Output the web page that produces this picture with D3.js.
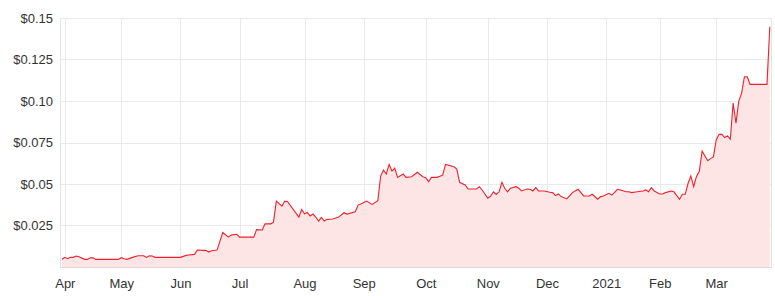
<!DOCTYPE html>
<html>
<head>
<meta charset="utf-8">
<script src="https://cdn.jsdelivr.net/npm/d3@7"></script>
<style>
  body { margin: 0; background: #fff; }
  svg { display: block; font-family: Inter, "Open Sans", sans-serif; }
  .axis text { font-size: 13px; fill: #333; }
  .grid line { stroke: #e9e9e9; }
</style>
</head>
<body>
<svg></svg>
<script>
// ASX trading calendar for the period shown
var startDate = "2020-03-31";
var endDate = "2021-03-26";
var holidays = ["2020-04-10", "2020-04-13", "2020-06-08", "2020-12-25", "2020-12-28", "2021-01-01", "2021-01-26"];

// closing prices
var priceDates = [
  "2020-03-31","2020-04-01","2020-04-02","2020-04-03","2020-04-06","2020-04-07","2020-04-08","2020-04-14","2020-04-15","2020-04-16",
  "2020-04-17","2020-04-20","2020-04-30","2020-05-01","2020-05-04","2020-05-05","2020-05-07","2020-05-11","2020-05-13","2020-05-14",
  "2020-05-15","2020-05-18","2020-05-19","2020-06-01","2020-06-03","2020-06-04","2020-06-09","2020-06-10","2020-06-12","2020-06-15",
  "2020-06-16","2020-06-17","2020-06-19","2020-06-23","2020-06-25","2020-06-26","2020-06-30","2020-07-01","2020-07-08","2020-07-09",
  "2020-07-13","2020-07-14","2020-07-16","2020-07-17","2020-07-20","2020-07-22","2020-07-23","2020-07-24","2020-07-30","2020-07-31",
  "2020-08-03","2020-08-04","2020-08-05","2020-08-06","2020-08-07","2020-08-10","2020-08-11","2020-08-12","2020-08-13","2020-08-17",
  "2020-08-19","2020-08-21","2020-08-24","2020-08-27","2020-08-28","2020-08-31","2020-09-02","2020-09-04","2020-09-08","2020-09-09",
  "2020-09-10","2020-09-11","2020-09-14","2020-09-15","2020-09-16","2020-09-17","2020-09-21","2020-09-22","2020-09-24","2020-09-28",
  "2020-09-30","2020-10-01","2020-10-02","2020-10-05","2020-10-07","2020-10-09","2020-10-12","2020-10-15","2020-10-16","2020-10-19",
  "2020-10-21","2020-10-22","2020-10-27","2020-10-28","2020-10-29","2020-11-02","2020-11-03","2020-11-04","2020-11-05","2020-11-06",
  "2020-11-09","2020-11-10","2020-11-11","2020-11-12","2020-11-16","2020-11-17","2020-11-18","2020-11-20","2020-11-23","2020-11-24",
  "2020-11-25","2020-11-26","2020-11-30","2020-12-02","2020-12-03","2020-12-04","2020-12-07","2020-12-08","2020-12-10","2020-12-11",
  "2020-12-14","2020-12-16","2020-12-18","2020-12-22","2020-12-23","2020-12-29","2020-12-30","2020-12-31","2021-01-05","2021-01-06",
  "2021-01-08","2021-01-11","2021-01-13","2021-01-14","2021-01-15","2021-01-19","2021-01-21","2021-01-22","2021-01-25","2021-01-27",
  "2021-01-28","2021-02-01","2021-02-02","2021-02-03","2021-02-05","2021-02-08","2021-02-10","2021-02-11","2021-02-12","2021-02-15",
  "2021-02-16","2021-02-17","2021-02-18","2021-02-19","2021-02-22","2021-02-24","2021-02-25","2021-02-26","2021-03-01","2021-03-02",
  "2021-03-03","2021-03-04","2021-03-05","2021-03-08","2021-03-09","2021-03-10","2021-03-11","2021-03-12","2021-03-15","2021-03-16",
  "2021-03-17","2021-03-25","2021-03-26"
];
var priceValues = [
  0.0047,0.0058,0.0050,0.0058,0.0058,0.0066,0.0062,0.0046,0.0046,0.0056,
  0.0055,0.0046,0.0046,0.0056,0.0050,0.0046,0.0058,0.0068,0.0068,0.0058,
  0.0068,0.0066,0.0058,0.0058,0.0070,0.0072,0.0076,0.0102,0.0100,0.0100,
  0.0090,0.0098,0.0102,0.0208,0.0180,0.0192,0.0197,0.0180,0.0180,0.0225,
  0.0223,0.0260,0.0260,0.0270,0.0397,0.0367,0.0397,0.0393,0.0301,0.0346,
  0.0320,0.0328,0.0307,0.0319,0.0301,0.0277,0.0299,0.0277,0.0287,0.0289,
  0.0299,0.0327,0.0319,0.0333,0.0373,0.0379,0.0397,0.0377,0.0399,0.0548,
  0.0584,0.0560,0.0618,0.0578,0.0596,0.0540,0.0560,0.0540,0.0544,0.0571,
  0.0544,0.0538,0.0514,0.0540,0.0540,0.0553,0.0618,0.0604,0.0590,0.0510,
  0.0494,0.0470,0.0470,0.0484,0.0464,0.0414,0.0427,0.0453,0.0437,0.0453,
  0.0510,0.0474,0.0453,0.0474,0.0484,0.0474,0.0458,0.0470,0.0468,0.0458,
  0.0478,0.0458,0.0458,0.0450,0.0448,0.0430,0.0440,0.0424,0.0410,0.0428,
  0.0448,0.0468,0.0428,0.0428,0.0438,0.0408,0.0424,0.0428,0.0444,0.0433,
  0.0468,0.0464,0.0453,0.0453,0.0448,0.0453,0.0458,0.0464,0.0453,0.0478,
  0.0458,0.0440,0.0440,0.0448,0.0458,0.0453,0.0408,0.0438,0.0438,0.0503,
  0.0548,0.0484,0.0546,0.0577,0.0698,0.0640,0.0653,0.0663,0.0765,0.0799,
  0.0799,0.0780,0.0790,0.0770,0.0987,0.0867,0.0999,0.1047,0.1146,0.1146,
  0.1100,0.1100,0.1447
];

var yTicks = [0.025, 0.05, 0.075, 0.10, 0.125, 0.15];
var yTickLabels = ["$0.025", "$0.05", "$0.075", "$0.10", "$0.125", "$0.15"];
var monthLabels = ["Apr", "May", "Jun", "Jul", "Aug", "Sep", "Oct", "Nov", "Dec", "2021", "Feb", "Mar"];

var width = 775, height = 296;
var plotLeft = 60, plotRight = 772, plotTop = 18, plotBottom = 267;

var svg = d3.select("svg").attr("width", width).attr("height", height);

// build list of trading days
var fmt = d3.timeFormat("%Y-%m-%d");
var parse = d3.timeParse("%Y-%m-%d");
var tradingDays = d3.timeDay.range(parse(startDate), d3.timeDay.offset(parse(endDate), 1))
    .filter(function(d){ return d.getDay() != 0 && d.getDay() != 6 && holidays.indexOf(fmt(d)) < 0; })
    .map(fmt);

// first trading day of every month
var monthStarts = [];
tradingDays.forEach(function(d, i){
    if (i > 0 && d.slice(5, 7) != tradingDays[i-1].slice(5, 7)) monthStarts.push(i);
});

var x = d3.scaleLinear().domain([0, tradingDays.length - 1]).range([62, 769.8]);
var y = d3.scaleLinear().domain([0, 0.15]).range([plotBottom, plotTop]);

var data = priceDates.map(function(d, i){
    return { i: tradingDays.indexOf(d), v: priceValues[i] };
});

// grid
svg.append("g").attr("class", "grid")
    .selectAll("line").data(yTicks).enter().append("line")
    .attr("x1", plotLeft).attr("x2", plotRight)
    .attr("y1", function(d){ return Math.round(y(d)) + 0.5; }).attr("y2", function(d){ return Math.round(y(d)) + 0.5; });
svg.append("g").attr("class", "grid")
    .selectAll("line").data(monthStarts).enter().append("line")
    .attr("x1", function(d){ return Math.round(x(d)) + 0.5; }).attr("x2", function(d){ return Math.round(x(d)) + 0.5; })
    .attr("y1", plotTop).attr("y2", plotBottom);
svg.append("line").attr("x1", plotLeft + 0.5).attr("x2", plotLeft + 0.5).attr("y1", plotTop).attr("y2", plotBottom).attr("stroke", "#e4e4e4");
svg.append("line").attr("x1", plotRight - 0.5).attr("x2", plotRight - 0.5).attr("y1", plotTop).attr("y2", plotBottom).attr("stroke", "#e4e4e4");

// area + line
var area = d3.area()
    .x(function(d){ return x(d.i); })
    .y0(plotBottom)
    .y1(function(d){ return y(d.v); });
var line = d3.line()
    .x(function(d){ return x(d.i); })
    .y(function(d){ return y(d.v); });

svg.append("path").datum(data).attr("d", area).attr("fill", "#fee5e5");
svg.append("path").datum(data).attr("d", line)
    .attr("fill", "none").attr("stroke", "#f0202a").attr("stroke-width", 1.1);

svg.append("line").attr("x1", plotLeft).attr("x2", plotRight).attr("y1", plotBottom + 0.5).attr("y2", plotBottom + 0.5).attr("stroke", "#e2d6d6");

// axes
var yAxis = d3.axisLeft(y).tickValues(yTicks).tickSize(0).tickPadding(7)
    .tickFormat(function(d, i){ return yTickLabels[i]; });
svg.append("g").attr("class", "axis").attr("transform", "translate(" + plotLeft + ",0)").call(yAxis)
    .call(function(g){ g.select(".domain").remove(); });

var xAxis = d3.axisBottom(x).tickValues(monthStarts).tickSize(0).tickPadding(12)
    .tickFormat(function(d, i){ return monthLabels[i]; });
svg.append("g").attr("class", "axis").attr("transform", "translate(0," + plotBottom + ")").call(xAxis)
    .call(function(g){ g.select(".domain").remove(); });
</script>
</body>
</html>
